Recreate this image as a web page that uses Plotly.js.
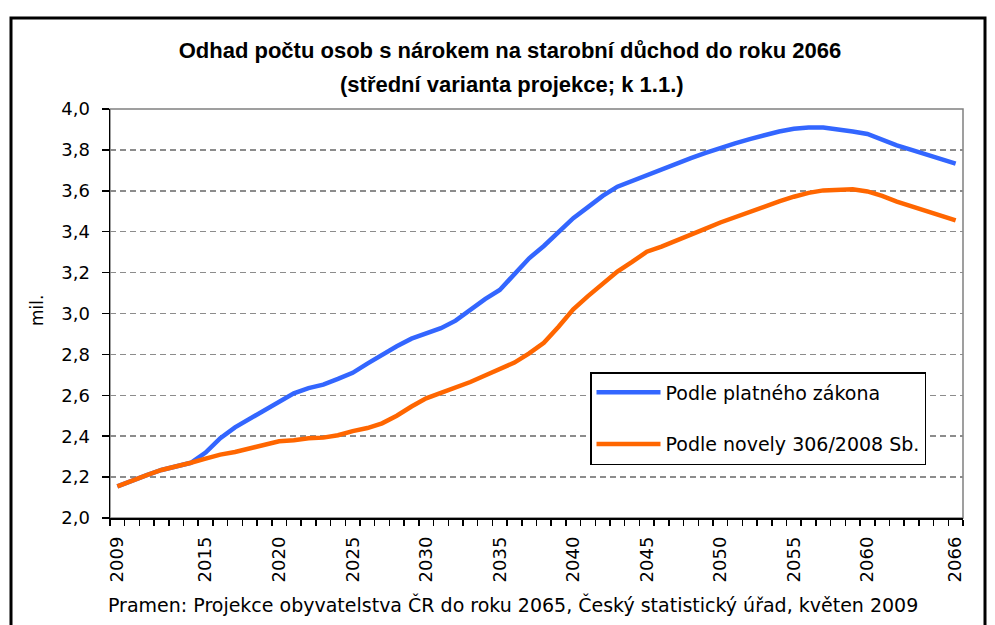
<!DOCTYPE html>
<html>
<head>
<meta charset="utf-8">
<script src="https://cdn.plot.ly/plotly-3.0.1.min.js"></script>
<style>html,body{margin:0;padding:0;background:#fff;}#chart{width:995px;height:625px;}</style>
</head>
<body>
<div id="chart"></div>
<script>
var years = [2009,2010,2011,2012,2013,2014,2015,2016,2017,2018,2019,2020,2021,2022,2023,2024,2025,2026,2027,2028,2029,2030,2031,2032,2033,2034,2035,2036,2037,2038,2039,2040,2041,2042,2043,2044,2045,2046,2047,2048,2049,2050,2051,2052,2053,2054,2055,2056,2057,2058,2059,2060,2061,2062,2063,2064,2065,2066];

var platnyZakon = [2.155,2.185,2.21,2.235,2.25,2.27,2.32,2.39,2.443,2.485,2.53,2.57,2.61,2.635,2.652,2.68,2.71,2.755,2.80,2.84,2.877,2.905,2.928,2.965,3.02,3.07,3.115,3.19,3.27,3.33,3.395,3.466,3.52,3.575,3.62,3.648,3.68,3.705,3.733,3.76,3.785,3.81,3.832,3.853,3.872,3.89,3.903,3.91,3.91,3.902,3.89,3.878,3.85,3.822,3.80,3.777,3.753,3.733];

var novela = [2.155,2.185,2.21,2.235,2.25,2.27,2.29,2.31,2.323,2.34,2.36,2.375,2.38,2.39,2.393,2.405,2.425,2.44,2.463,2.50,2.545,2.585,2.612,2.638,2.665,2.697,2.727,2.76,2.805,2.857,2.935,3.02,3.085,3.147,3.205,3.252,3.302,3.327,3.355,3.385,3.415,3.445,3.472,3.498,3.523,3.548,3.571,3.59,3.602,3.607,3.607,3.597,3.575,3.547,3.523,3.50,3.477,3.455];

var seriesNames = ['Podle platného zákona', 'Podle novely 306/2008 Sb.'];
var xTickYears = [2009,2015,2020,2025,2030,2035,2040,2045,2050,2055,2060,2066];
var yTickValues = [2.0,2.2,2.4,2.6,2.8,3.0,3.2,3.4,3.6,3.8,4.0];

var titleLine1 = 'Odhad počtu osob s nárokem na starobní důchod do roku 2066';
var titleLine2 = '(střední varianta projekce; k 1.1.)';
var yLabel = 'mil.';
var sourceText = 'Pramen: Projekce obyvatelstva ČR do roku 2065, Český statistický úřad, květen 2009';

var bodyFont = 'DejaVu Sans, Verdana, sans-serif';
var titleFont = 'Liberation Sans, Arial, sans-serif';

// category boundaries (tick marks between years, as on a category axis)
var boundaries = years.map(function (y) { return y - 0.5; });
boundaries.push(years[years.length - 1] + 0.5);
var xRange = [years[0] - 0.5, years[years.length - 1] + 0.5];

var data = [
  {x: years, y: platnyZakon, type: 'scatter', mode: 'lines', name: seriesNames[0],
   legendgroup: 'a', line: {color: '#3366FF', width: 4.5}, xaxis: 'x', yaxis: 'y'},
  {x: years, y: novela, type: 'scatter', mode: 'lines', name: seriesNames[1],
   legendgroup: 'b', line: {color: '#FF6600', width: 4.5}, xaxis: 'x2', yaxis: 'y'}
];

var layout = {
  width: 995, height: 625,
  margin: {l: 110, r: 32, t: 109, b: 107, pad: 0},
  paper_bgcolor: '#ffffff', plot_bgcolor: '#ffffff',
  showlegend: true,
  title: {text: '<b>' + titleLine1 + '</b>', font: {family: titleFont, size: 22, color: '#000'},
          xref: 'container', x: 510 / 995, xanchor: 'center', yref: 'container', y: 1 - 50/625, yanchor: 'middle'},
  xaxis: {
    range: xRange, fixedrange: true,
    tickmode: 'array', tickvals: boundaries, showticklabels: false,
    ticks: 'outside', ticklen: 6, tickcolor: '#000', tickwidth: 1.5,
    showgrid: false, zeroline: false,
    showline: true, linecolor: '#000', linewidth: 1.5
  },
  xaxis2: {
    range: xRange, fixedrange: true, overlaying: 'x', anchor: 'y', side: 'bottom',
    tickmode: 'array', tickvals: xTickYears, ticktext: xTickYears.map(String),
    ticks: '', tickangle: -90, ticklabelstandoff: 14,
    tickfont: {family: bodyFont, size: 18, color: '#000'},
    showgrid: false, zeroline: false, showline: false
  },
  yaxis: {
    range: [2.0, 4.0], fixedrange: true,
    tickmode: 'array', tickvals: yTickValues, tickformat: '.1f',
    ticks: 'outside', ticklen: 7, tickcolor: '#000', tickwidth: 1.5, ticklabelstandoff: 8,
    tickfont: {family: bodyFont, size: 18, color: '#000'},
    showgrid: true, gridcolor: '#8c8c8c', gridwidth: 1.5, griddash: '6px,4px',
    zeroline: false, showline: true, linecolor: '#000', linewidth: 1.5
  },
  separators: ', ',
  legend: {
    x: (590 - 110) / 853, y: (518 - 372) / 409, xanchor: 'left', yanchor: 'top',
    bgcolor: '#ffffff', bordercolor: '#000', borderwidth: 1.5,
    font: {family: bodyFont, size: 19, color: '#000'},
    tracegroupgap: 24, itemwidth: 64
  },
  shapes: [
    {type: 'rect', xref: 'paper', yref: 'paper', x0: 0, x1: 1, y0: 0, y1: 1,
     line: {color: '#808080', width: 1.5}, layer: 'below'},
    {type: 'rect', xref: 'paper', yref: 'paper',
     x0: (11 - 110) / 853, x1: (985 - 110) / 853, y0: -0.3, y1: 1 + (109 - 18) / 409,
     line: {color: '#000', width: 3}, layer: 'below'}
  ],
  annotations: [
    {text: '<b>' + titleLine2 + '</b>', xref: 'paper', yref: 'paper',
     x: (512 - 110) / 853, y: 1 + (109 - 85) / 409, xanchor: 'center', yanchor: 'middle',
     showarrow: false, font: {family: titleFont, size: 22, color: '#000'}},
    {text: yLabel, xref: 'paper', yref: 'paper', x: (37 - 110) / 853, y: (518 - 311) / 409,
     xanchor: 'center', yanchor: 'middle', textangle: -90, showarrow: false,
     font: {family: bodyFont, size: 17, color: '#000'}},
    {text: sourceText, xref: 'paper', yref: 'paper', x: (106 - 110) / 853, y: (518 - 604) / 409,
     xanchor: 'left', yanchor: 'middle', showarrow: false,
     font: {family: bodyFont, size: 19, color: '#000'}}
  ]
};

Plotly.newPlot('chart', data, layout, {displayModeBar: false, staticPlot: true});
</script>
</body>
</html>
